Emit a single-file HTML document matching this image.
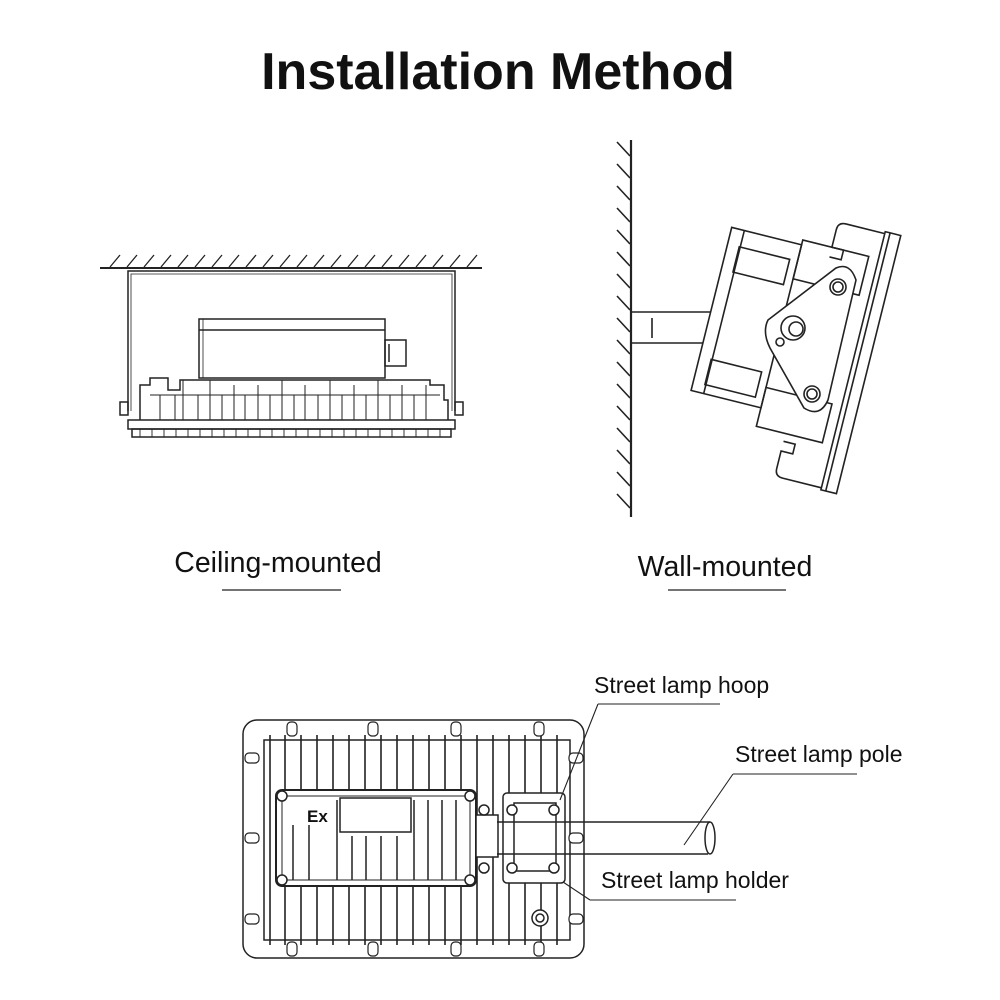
<!DOCTYPE html>
<html><head><meta charset="utf-8"><style>
html,body{margin:0;padding:0;background:#fff;width:1000px;height:1000px;overflow:hidden}
svg{display:block}
text{font-family:"Liberation Sans",sans-serif;fill:#111}
</style></head><body>
<svg width="1000" height="1000" viewBox="0 0 1000 1000" xmlns="http://www.w3.org/2000/svg">
<text x="498" y="89" font-size="52" font-weight="bold" text-anchor="middle">Installation Method</text>

<!-- Ceiling mounted -->
<g stroke="#222" fill="none" stroke-width="1.5">
<line x1="100" y1="268" x2="482" y2="268" stroke-width="2"/>
<g stroke-width="1.3">
<path d="M110 267 l10 -12 M127 267 l10 -12 M144 267 l10 -12 M161 267 l10 -12 M178 267 l10 -12 M195 267 l10 -12 M212 267 l10 -12 M229 267 l10 -12 M246 267 l10 -12 M263 267 l10 -12 M280 267 l10 -12 M297 267 l10 -12 M314 267 l10 -12 M331 267 l10 -12 M348 267 l10 -12 M365 267 l10 -12 M382 267 l10 -12 M399 267 l10 -12 M416 267 l10 -12 M433 267 l10 -12 M450 267 l10 -12 M467 267 l10 -12"/>
</g>
<path d="M128 411 V271 H455 V411"/>
<path d="M131 411 V274 H452 V411" stroke-width="0.8"/>
<rect x="199" y="319" width="186" height="59"/>
<line x1="199" y1="330" x2="385" y2="330"/>
<line x1="203" y1="319" x2="203" y2="378" stroke-width="0.8"/>
<rect x="385" y="340" width="21" height="26"/>
<line x1="389" y1="344" x2="389" y2="362"/>
<path d="M140 420 V385 H150 V378 H168 V390 H180 V380 H430 V385 H444 V400 H448 V420"/>
<g stroke-width="1">
<path d="M160 420 V395 M175 420 V395 M183 420 V380 M198 420 V395 M210 420 V380 M222 420 V395 M234 420 V385 M245 420 V395 M258 420 V385 M270 420 V395 M282 420 V380 M294 420 V395 M305 420 V385 M318 420 V395 M330 420 V380 M342 420 V395 M354 420 V385 M366 420 V395 M378 420 V380 M390 420 V395 M402 420 V385 M414 420 V395 M426 420 V385"/>
<path d="M150 395 H440"/>
</g>
<rect x="128" y="420" width="327" height="9"/>
<rect x="132" y="429" width="319" height="8"/>
<g stroke-width="0.9"><path d="M140 429 v8 M152 429 v8 M164 429 v8 M176 429 v8 M188 429 v8 M200 429 v8 M212 429 v8 M224 429 v8 M236 429 v8 M248 429 v8 M260 429 v8 M272 429 v8 M284 429 v8 M296 429 v8 M308 429 v8 M320 429 v8 M332 429 v8 M344 429 v8 M356 429 v8 M368 429 v8 M380 429 v8 M392 429 v8 M404 429 v8 M416 429 v8 M428 429 v8 M440 429 v8"/></g>
<rect x="120" y="402" width="8" height="13"/>
<rect x="455" y="402" width="8" height="13"/>
</g>
<text x="278" y="572" font-size="28.5" text-anchor="middle">Ceiling-mounted</text>
<line x1="222" y1="590" x2="341" y2="590" stroke="#222" stroke-width="1.2"/>

<!-- Wall mounted -->
<g stroke="#222" fill="none" stroke-width="1.6">
<line x1="631" y1="140" x2="631" y2="517" stroke-width="2.2"/>
<path d="M617 142 l13 14 M617 164 l13 14 M617 186 l13 14 M617 208 l13 14 M617 230 l13 14 M617 252 l13 14 M617 274 l13 14 M617 296 l13 14 M617 318 l13 14 M617 340 l13 14 M617 362 l13 14 M617 384 l13 14 M617 406 l13 14 M617 428 l13 14 M617 450 l13 14 M617 472 l13 14 M617 494 l13 14"/>
<line x1="631" y1="312" x2="778" y2="312"/>
<line x1="631" y1="343" x2="775" y2="343"/>
<line x1="652" y1="318" x2="652" y2="338"/>
<g transform="rotate(14 790 345)">
<rect x="705" y="245" width="72" height="168" fill="#fff"/>
<line x1="718" y1="245" x2="718" y2="413"/>
<rect x="717" y="262" width="52" height="26"/>
<rect x="717" y="378" width="52" height="26"/>
<rect x="777" y="240" width="68" height="40"/>
<rect x="777" y="392" width="68" height="40"/>
<path d="M855 214 h-40 q-8 0 -8 8 v18 h12 v10 h-12 M855 476 h-40 q-8 0 -8 -8 v-18 h12 v-10 h-12" />
<rect x="855" y="212" width="16" height="266" fill="#fff"/>
<line x1="860" y1="212" x2="860" y2="478"/>
</g>
<path d="M768 320 L836 268 Q850 262 856 280 L828 400 Q820 418 804 408 L770 348 Q762 332 768 320 Z" fill="#fff"/>
<circle cx="838" cy="287" r="8"/><circle cx="838" cy="287" r="5"/>
<circle cx="812" cy="394" r="8"/><circle cx="812" cy="394" r="5"/>
<circle cx="793" cy="328" r="12"/><circle cx="796" cy="329" r="7"/>
<circle cx="780" cy="342" r="4"/>
</g>
<text x="725" y="576" font-size="28.5" text-anchor="middle">Wall-mounted</text>
<line x1="668" y1="590" x2="786" y2="590" stroke="#222" stroke-width="1.2"/>

<!-- Street lamp -->
<g stroke="#222" fill="none" stroke-width="1.5">
<rect x="243" y="720" width="341" height="238" rx="14"/>
<rect x="264" y="740" width="306" height="200"/>
<g stroke-width="1.6">
<path d="M270 735 V945 M285 735 V945 M301 735 V945 M317 735 V945 M333 735 V945 M349 735 V945 M365 735 V945 M381 735 V945 M397 735 V945 M413 735 V945 M429 735 V945 M445 735 V945 M461 735 V945 M477 735 V945 M493 735 V945 M509 735 V945 M525 735 V945 M541 735 V945 M557 735 V945"/>
</g>
<rect x="276" y="790" width="200" height="96" rx="6" fill="#fff" stroke-width="2"/>
<rect x="282" y="796" width="188" height="84" fill="none" stroke-width="1"/>
<rect x="340" y="798" width="71" height="34" fill="#fff"/>
<g stroke-width="1.5"><path d="M293 825 V880 M309 825 V880 M337 800 V880 M352 836 V880 M366 836 V880 M381 836 V880 M397 836 V880 M414 800 V880 M428 800 V880 M442 800 V880 M456 800 V880"/></g>
<circle cx="282" cy="796" r="5" fill="#fff"/><circle cx="470" cy="796" r="5" fill="#fff"/>
<circle cx="282" cy="880" r="5" fill="#fff"/><circle cx="470" cy="880" r="5" fill="#fff"/>
<rect x="476" y="815" width="22" height="42" fill="#fff"/>
<circle cx="484" cy="810" r="5" fill="#fff"/><circle cx="484" cy="868" r="5" fill="#fff"/>
<rect x="503" y="793" width="62" height="90" rx="4" fill="#fff"/>
<rect x="514" y="803" width="42" height="68"/>
<circle cx="512" cy="810" r="5" fill="#fff"/><circle cx="554" cy="810" r="5" fill="#fff"/>
<circle cx="512" cy="868" r="5" fill="#fff"/><circle cx="554" cy="868" r="5" fill="#fff"/>
<circle cx="540" cy="918" r="8" fill="#fff"/><circle cx="540" cy="918" r="4"/>
<g fill="#fff" stroke-width="1.2">
<rect x="287" y="722" width="10" height="14" rx="4"/><rect x="368" y="722" width="10" height="14" rx="4"/><rect x="451" y="722" width="10" height="14" rx="4"/><rect x="534" y="722" width="10" height="14" rx="4"/>
<rect x="287" y="942" width="10" height="14" rx="4"/><rect x="368" y="942" width="10" height="14" rx="4"/><rect x="451" y="942" width="10" height="14" rx="4"/><rect x="534" y="942" width="10" height="14" rx="4"/>
<rect x="245" y="753" width="14" height="10" rx="4"/><rect x="245" y="833" width="14" height="10" rx="4"/><rect x="245" y="914" width="14" height="10" rx="4"/>
<rect x="569" y="753" width="14" height="10" rx="4"/><rect x="569" y="833" width="14" height="10" rx="4"/><rect x="569" y="914" width="14" height="10" rx="4"/>
</g>
<path d="M497 822 H710 M497 854 H708"/>
<ellipse cx="710" cy="838" rx="5" ry="16"/>
<path d="M598 704 H720 M598 704 L560 800" stroke-width="1.1"/>
<path d="M733 774 H857 M733 774 L684 845" stroke-width="1.1"/>
<path d="M590 900 H736 M590 900 L563 882" stroke-width="1.1"/>
</g>
<text x="307" y="822" font-size="17" font-weight="bold" fill="#333">Ex</text>
<text x="594" y="693" font-size="23">Street lamp hoop</text>
<text x="735" y="762" font-size="23">Street lamp pole</text>
<text x="601" y="888" font-size="23">Street lamp holder</text>
</svg>
</body></html>
